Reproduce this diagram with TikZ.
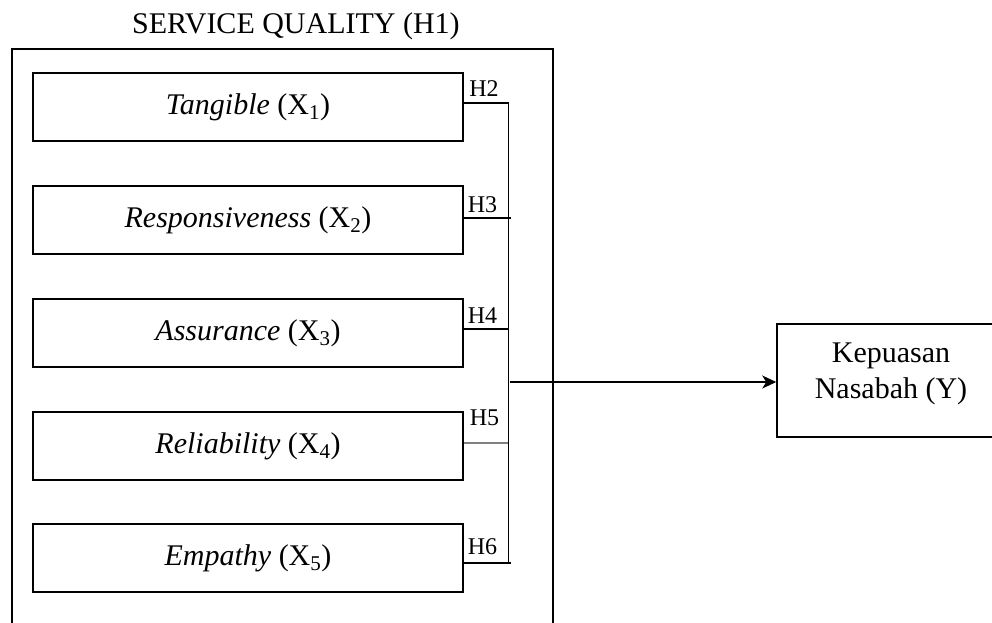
\documentclass[tikz,border=0pt]{standalone}
\usepackage{fontspec}
\setmainfont{Liberation Serif}
\usetikzlibrary{arrows.meta}
\begin{document}
\begin{tikzpicture}[x=1pt,y=-1pt,
  varbox/.style={draw, line width=1.5pt, minimum width=430pt, minimum height=68pt, inner sep=0pt, font=\fontsize{30}{36}\selectfont},
  hlab/.style={font=\fontsize{24}{28}\selectfont, inner sep=0pt, anchor=base},
  txt/.style={font=\fontsize{30}{36}\selectfont, inner sep=0pt, anchor=base},
  conn/.style={line width=1.4pt},
]
\useasboundingbox (0,0) rectangle (992,622);
\clip (0,0) rectangle (992,622);
% title and outer frame
\node[txt] (title) at (296,33) {SERVICE QUALITY (H1)};
\node[draw, line width=1.5pt, minimum width=541pt, minimum height=600pt, inner sep=0pt, anchor=north west] (outer) at (11,48) {};
% variable boxes
\node[varbox] (t1) at (248,107) {\textit{Tangible} (X\textsubscript{1})};
\node[varbox] (t2) at (248,220) {\textit{Responsiveness} (X\textsubscript{2})};
\node[varbox] (t3) at (248,333) {\textit{Assurance} (X\textsubscript{3})};
\node[varbox] (t4) at (248,446) {\textit{Reliability} (X\textsubscript{4})};
\node[varbox] (t5) at (248,558) {\textit{Empathy} (X\textsubscript{5})};
% dependent box
\node[draw, line width=1.5pt, minimum width=228pt, minimum height=113pt, inner sep=0pt] (Y) at (891,380.5) {};
\node[txt] (ya) at (891,362) {Kepuasan};
\node[txt] (yb) at (891,398) {Nasabah (Y)};
% connectors
\draw[conn] ([yshift=4pt]t1.east) -- ++(45,0) coordinate (b2);
\draw[conn] ([yshift=2pt]t2.east) -- ++(47,0) coordinate (b3);
\draw[conn] ([yshift=4pt]t3.east) -- ++(45,0) coordinate (b4);
\draw[conn, draw=black!50, line width=1.2pt] ([yshift=3pt]t4.east) -- ++(45,0) coordinate (b5);
\draw[conn] ([yshift=-5pt]t5.east) -- ++(47,0) coordinate (b6);
\draw[conn] (b2) -- (b2 |- b6);
\coordinate (bs) at ([xshift=1pt, yshift=-1.5pt]b2 |- Y.west);
\draw[conn, -{Stealth[length=14pt, width=13pt, inset=4pt]}] (bs) -- ([yshift=-1.5pt]Y.west);
% hypothesis labels
\node[hlab] (h2) at (484,96) {H2};
\node[hlab] (h3) at (482.5,212) {H3};
\node[hlab] (h4) at (482.5,323) {H4};
\node[hlab] (h5) at (484.5,425) {H5};
\node[hlab] (h6) at (482.5,554) {H6};
\end{tikzpicture}
\end{document}
